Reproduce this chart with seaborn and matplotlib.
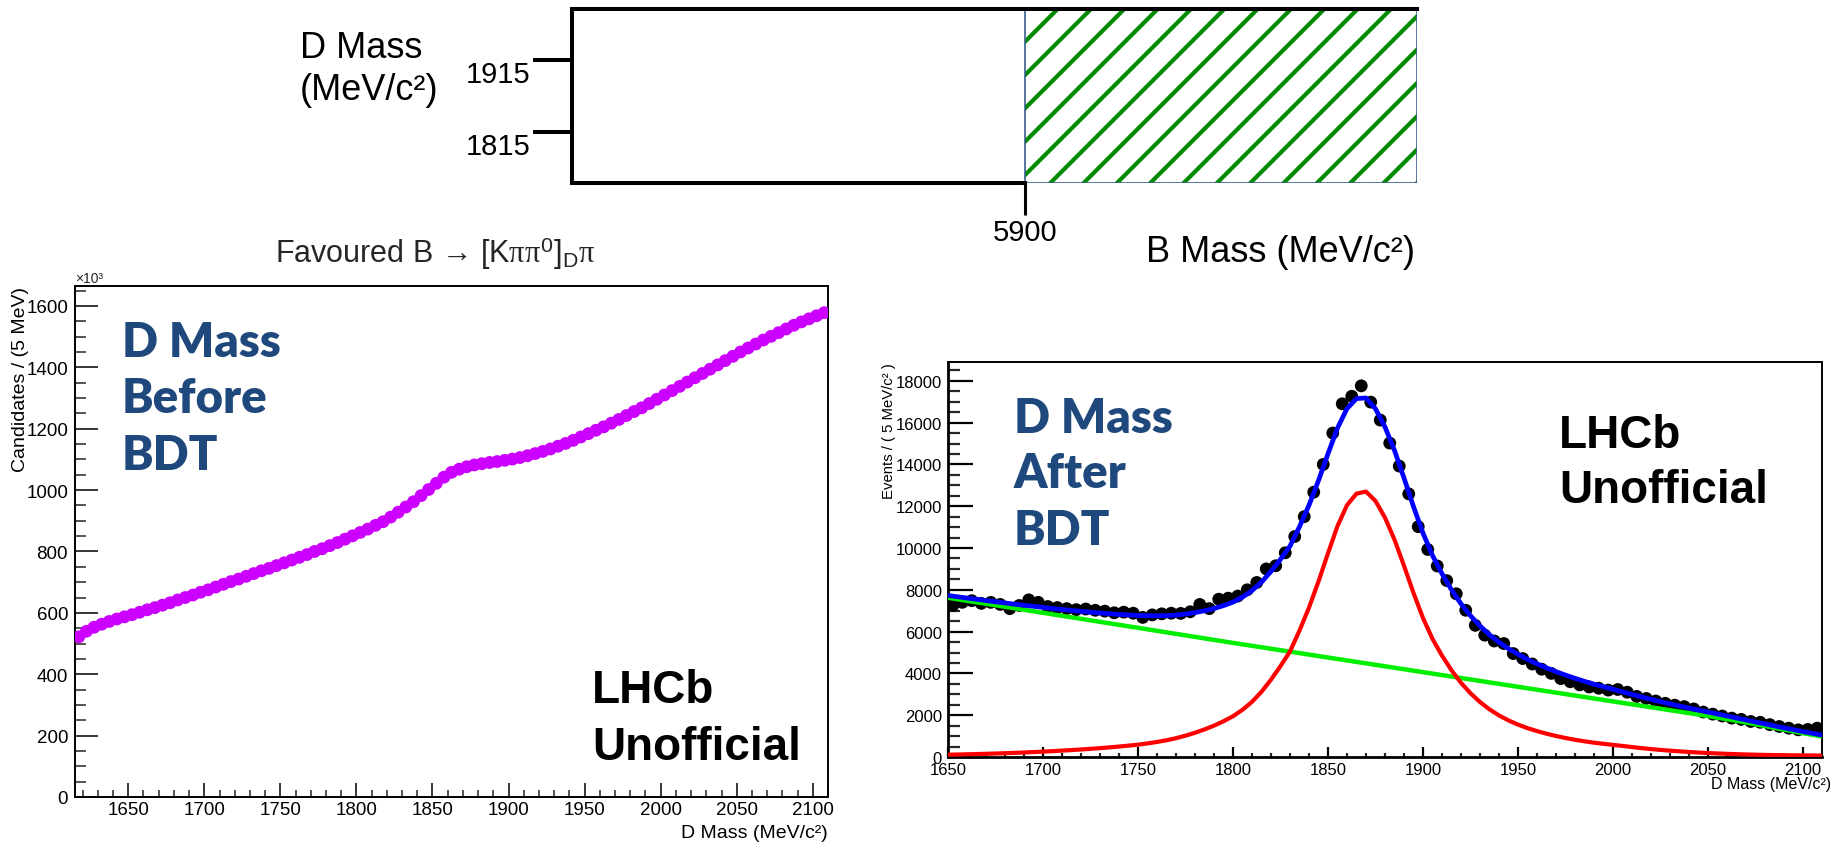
import numpy as np
import pandas as pd
import seaborn as sns
import matplotlib.pyplot as plt
from matplotlib.ticker import MultipleLocator

W, H = 1834, 845

# top sketch: B mass / D mass window
d_ticks = [1815, 1915]
b_cut = 5900
b_range = [5000, 6680]
d_range = [1744, 1986]

# left panel: D mass before BDT, 5 MeV bins, candidates in units of 10^3
before_mass = np.arange(1617.5, 2110, 5)
before_counts = [
    522, 540, 553, 563, 572, 580, 587, 594, 602, 610,
    617, 625, 633, 642, 650, 658, 667, 675, 684, 693,
    702, 710, 719, 728, 737, 745, 754, 763, 772, 781,
    790, 800, 809, 819, 829, 840, 851, 862, 873, 885,
    897, 912, 928, 945, 962, 982, 1002, 1022, 1042, 1058,
    1068, 1076, 1082, 1086, 1090, 1093, 1097, 1101, 1106, 1112,
    1119, 1126, 1134, 1143, 1152, 1162, 1173, 1184, 1195, 1206,
    1218, 1230, 1243, 1256, 1268, 1282, 1296, 1310, 1324, 1338,
    1352, 1366, 1380, 1394, 1408, 1422, 1436, 1450, 1463, 1476,
    1489, 1501, 1513, 1525, 1537, 1548, 1558, 1568, 1578,
]

# right panel: D mass after BDT
after_mass = np.arange(1652.5, 2110, 5)
after_counts = [
    7250, 7400, 7480, 7350, 7400, 7300, 7100, 7250, 7520, 7400,
    7200, 7150, 7100, 7050, 7080, 7020, 6980, 6900, 6930, 6880,
    6680, 6800, 6850, 6880, 6870, 6950, 7300, 7100, 7550, 7600,
    7700, 8000, 8350, 9000, 9150, 9770, 10550, 11500, 12670, 14000,
    15500, 16900, 17260, 17760, 16980, 16120, 15020, 13920, 12590, 11020,
    9930, 9140, 8440, 7810, 7020, 6300, 5830, 5550, 5430, 4950,
    4710, 4450, 4200, 4000, 3750, 3600, 3450, 3350, 3290, 3200,
    3230, 3100, 2900, 2800, 2680, 2570, 2480, 2410, 2300, 2150,
    2050, 1960, 1860, 1800, 1700, 1660, 1550, 1460, 1380, 1300,
    1320, 1380,
]

fit_mass = np.arange(1650, 2111, 5)
signal_fit = [
    110, 119, 130, 141, 153, 167, 181, 197, 215, 236,
    258, 280, 305, 331, 359, 390, 424, 461, 500, 544,
    590, 650, 720, 800, 900, 1020, 1160, 1320, 1500, 1710,
    1950, 2260, 2640, 3120, 3700, 4350, 5050, 6050, 7150, 8400,
    9750, 11050, 12050, 12600, 12700, 12250, 11450, 10400, 9150, 7850,
    6650, 5650, 4850, 4150, 3550, 3050, 2630, 2280, 1990, 1750,
    1550, 1380, 1240, 1115, 1005, 910, 825, 750, 685, 630,
    580, 530, 475, 425, 380, 340, 303, 270, 240, 213,
    190, 170, 152, 136, 122, 110, 100, 92, 86, 81,
    77, 73, 70,
]
background_fit = [
    7620, 7548, 7476, 7404, 7332, 7260, 7188, 7116, 7044, 6972,
    6900, 6828, 6756, 6684, 6612, 6540, 6468, 6396, 6324, 6252,
    6180, 6108, 6036, 5964, 5892, 5820, 5748, 5676, 5604, 5532,
    5460, 5390, 5320, 5250, 5180, 5110, 5040, 4970, 4900, 4830,
    4760, 4690, 4620, 4550, 4480, 4410, 4340, 4270, 4200, 4130,
    4060, 3990, 3920, 3850, 3780, 3710, 3640, 3570, 3500, 3430,
    3360, 3290, 3220, 3150, 3080, 3010, 2940, 2870, 2800, 2730,
    2660, 2590, 2520, 2450, 2380, 2310, 2240, 2170, 2100, 2030,
    1960, 1885, 1810, 1730, 1650, 1565, 1480, 1395, 1310, 1225,
    1140, 1060, 980,
]

sns.set_theme(style='white')
plt.rcParams['font.family'] = ['Liberation Sans', 'DejaVu Sans']
plt.rcParams['mathtext.fontset'] = 'custom'
plt.rcParams['mathtext.rm'] = 'Liberation Sans'
plt.rcParams['mathtext.it'] = 'Liberation Serif'
plt.rcParams['mathtext.sf'] = 'Liberation Sans'
plt.rcParams['hatch.linewidth'] = 3.0
plt.rcParams['axes.edgecolor'] = 'black'

fig = plt.figure(figsize=(W / 100, H / 100), dpi=100)
fig.patch.set_facecolor('white')


def box(l, t, r, b):
    return [l / W, 1 - b / H, (r - l) / W, (b - t) / H]


def label_lines(x, baselines, lines, **kw):
    for y, line in zip(baselines, lines):
        fig.text(x / W, 1 - y / H, line, ha='left', va='baseline', **kw)


ax_top = fig.add_axes(box(572, 10, 1417, 184))
ax_l = fig.add_axes(box(75, 287, 828, 798))
ax_r = fig.add_axes(box(948, 363, 1822, 758))

# ---- top sketch
ax_top.set_xlim(b_range)
ax_top.set_ylim(d_range)
ax_top.axvspan(b_cut, b_range[1], facecolor='white', edgecolor='#008a00', hatch='/', lw=0)
ax_top.axvspan(b_cut, b_range[1], fill=False, edgecolor='#3a5f8f', lw=1.2)
for s in ['left', 'top', 'bottom']:
    ax_top.spines[s].set_linewidth(2.9)
    ax_top.spines[s].set_color('black')
ax_top.spines['right'].set_visible(False)
ax_top.spines['bottom'].set_bounds(b_range[0], b_cut)
ax_top.set_yticks(d_ticks)
ax_top.set_xticks([b_cut])
ax_top.tick_params(axis='y', direction='out', length=28, width=2.9, pad=2,
                   labelsize=21, left=True, colors='black')
ax_top.tick_params(axis='x', direction='out', length=23, width=2.2, pad=2,
                   labelsize=21, bottom=True, colors='black')
for lab in ax_top.get_yticklabels():
    lab.set_verticalalignment('top')

label_lines(300, [58, 100], ['D Mass', '(MeV/c²)'], fontsize=26, color='black')
label_lines(1146, [262], ['B Mass (MeV/c²)'], fontsize=26, color='black')

# ---- left panel
before = pd.DataFrame({'mass': before_mass, 'counts': before_counts})
sns.scatterplot(data=before, x='mass', y='counts', ax=ax_l, color='#cc00ff',
                s=85, edgecolor='none', linewidth=0, zorder=3)
ax_l.set_xlim(1615, 2110)
ax_l.set_ylim(0, 1665)
ax_l.xaxis.set_major_locator(MultipleLocator(50))
ax_l.xaxis.set_minor_locator(MultipleLocator(10))
ax_l.yaxis.set_major_locator(MultipleLocator(200))
ax_l.yaxis.set_minor_locator(MultipleLocator(50))
ax_l.tick_params(axis='y', which='major', direction='in', length=16.5, width=1.1,
                 pad=5, labelsize=13.5, left=True, colors='black')
ax_l.tick_params(axis='y', which='minor', direction='in', length=8, width=1.1, left=True)
ax_l.tick_params(axis='x', which='major', direction='in', length=10, width=1.1,
                 pad=3, labelsize=13.5, bottom=True, colors='black')
ax_l.tick_params(axis='x', which='minor', direction='in', length=5, width=1.1, bottom=True)
for s in ax_l.spines.values():
    s.set_linewidth(1.4)
ax_l.set_xlabel('D Mass (MeV/c²)', loc='right', fontsize=14, color='black')
ax_l.xaxis.set_label_coords(1.0, -0.052)
ax_l.set_ylabel('Candidates / (5 MeV)', loc='top', fontsize=14, color='black')
ax_l.yaxis.set_label_coords(-0.061, 1.0)

fig.text(75 / W, 1 - 283 / H, '×10³', fontsize=10, va='baseline', ha='left')
fig.text(275 / W, 1 - 263 / H,
         r'Favoured B → [K$\pi\pi^{\mathrm{0}}$]$_{\mathrm{D}}\pi$',
         fontsize=22, va='baseline', ha='left')

label_lines(122, [357, 413, 470], ['D Mass', 'Before', 'BDT'], fontsize=34,
            fontweight='heavy', family='Lato', color='#1f497d')
label_lines(592, [703, 760], ['LHCb', 'Unofficial'], fontsize=33,
            fontweight='bold', color='black')

# ---- right panel
after = pd.DataFrame({'mass': after_mass, 'events': after_counts})
fit = pd.DataFrame({'mass': fit_mass, 'signal': signal_fit, 'background': background_fit})
fit['total'] = fit['signal'] + fit['background']

ax_r.errorbar(after['mass'], after['events'], yerr=np.sqrt(after['events']),
              fmt='none', ecolor='black', elinewidth=2, zorder=2)
sns.scatterplot(data=after, x='mass', y='events', ax=ax_r, color='black',
                s=85, edgecolor='none', linewidth=0, zorder=2)
sns.lineplot(data=fit, x='mass', y='background', ax=ax_r, color='#00ee00', lw=3.2, zorder=3)
sns.lineplot(data=fit, x='mass', y='signal', ax=ax_r, color='#ff0000', lw=3.0, zorder=3)
sns.lineplot(data=fit, x='mass', y='total', ax=ax_r, color='#0000ff', lw=3.4, zorder=4)

ax_r.set_xlim(1650, 2110)
ax_r.set_ylim(0, 18900)
ax_r.xaxis.set_major_locator(MultipleLocator(50))
ax_r.xaxis.set_minor_locator(MultipleLocator(10))
ax_r.yaxis.set_major_locator(MultipleLocator(2000))
ax_r.yaxis.set_minor_locator(MultipleLocator(500))
ax_r.tick_params(axis='y', which='major', direction='in', length=18, width=1.6,
                 pad=4.5, labelsize=12, left=True, colors='black')
ax_r.tick_params(axis='y', which='minor', direction='in', length=8.6, width=1.6, left=True)
ax_r.tick_params(axis='x', which='major', direction='in', length=7, width=1.6,
                 pad=3.5, labelsize=12, bottom=True, colors='black')
ax_r.tick_params(axis='x', which='minor', direction='in', length=3, width=1.6, bottom=True)
for s in ax_r.spines.values():
    s.set_linewidth(1.4)
ax_r.spines['left'].set_linewidth(2.0)
ax_r.spines['bottom'].set_linewidth(2.0)
ax_r.set_xlabel('D Mass (MeV/c²)', loc='right', fontsize=11.5, color='black')
ax_r.xaxis.set_label_coords(1.010, -0.047)
ax_r.set_ylabel('Events / ( 5 MeV/c² )', loc='top', fontsize=10.7, color='black')
ax_r.yaxis.set_label_coords(-0.0595, 1.0)

label_lines(1014, [433, 488, 545], ['D Mass', 'After', 'BDT'], fontsize=34,
            fontweight='heavy', family='Lato', color='#1f497d')
label_lines(1559, [448, 503], ['LHCb', 'Unofficial'], fontsize=33,
            fontweight='bold', color='black')

fig.savefig('out.png', dpi=100)
